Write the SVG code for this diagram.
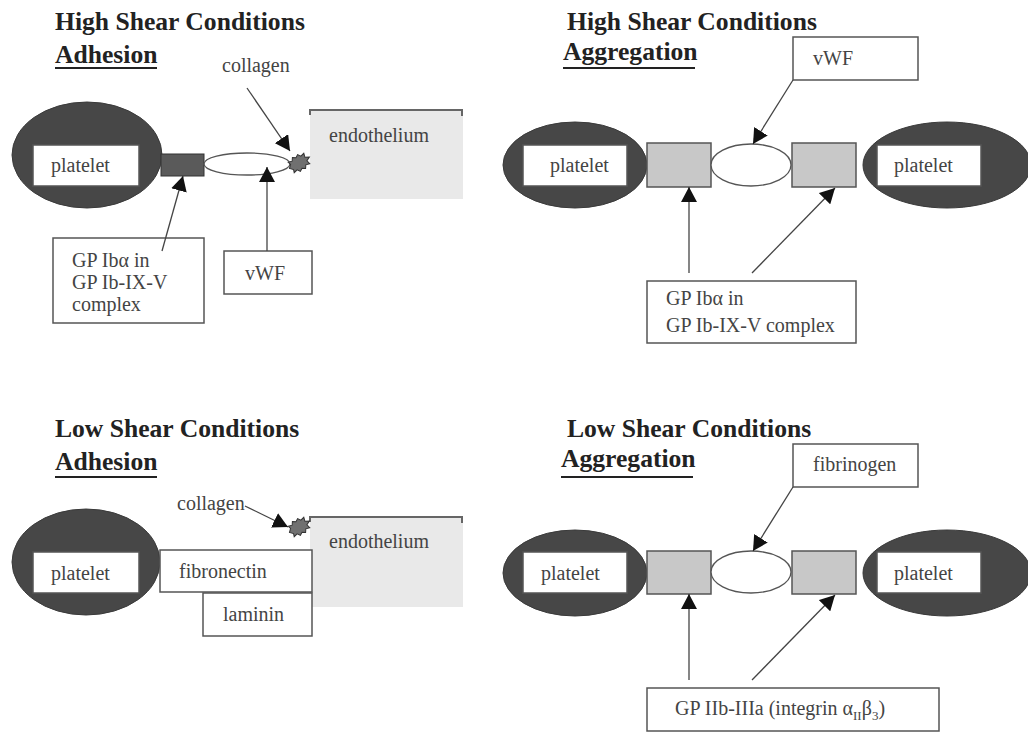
<svg xmlns="http://www.w3.org/2000/svg" width="1028" height="733" viewBox="0 0 1028 733">
<style>
.title{font-family:"Liberation Serif",serif;font-weight:bold;font-size:25.6px;fill:#222}
.lbl{font-family:"Liberation Serif",serif;font-size:20px;fill:#444}
.box{fill:#fff;stroke:#555;stroke-width:1.5}
.plt{fill:#474747;stroke:#3a3a3a;stroke-width:1}
.rec{fill:#c8c8c8;stroke:#555;stroke-width:1.5}
.oval{fill:#fff;stroke:#555;stroke-width:1.3}
.endo{fill:#e9e9e9}
.edge{fill:none;stroke:#666;stroke-width:2}
.ul{stroke:#222;stroke-width:2}
.con{stroke:#444;stroke-width:1.3;fill:none;marker-end:url(#ah)}
.col{fill:#707070;stroke:#333;stroke-width:1}
</style>
<defs>
<marker id="ah" markerUnits="userSpaceOnUse" markerWidth="16" markerHeight="16" refX="15" refY="8" orient="auto">
<path d="M0,0 L15,8 L0,16 z" fill="#111"/>
</marker>
<path id="blob" d="M-11,0 L-8,-3 L-9,-6 L-5,-5 L-3,-8 L0,-6 L3,-8 L5,-5 L9,-6 L8,-2 L12,0 L8,2 L9,6 L5,5 L3,8 L0,6 L-3,8 L-5,5 L-9,6 L-8,3 z"/>
</defs>

<!-- Panel 1: High shear adhesion -->
<g id="title1">
<text class="title" x="55" y="30">High Shear Conditions</text>
<text class="title" x="55" y="63">Adhesion</text>
<line class="ul" x1="55" y1="68" x2="157" y2="68"/>
</g>
<g id="endo1">
<rect class="endo" x="310" y="110" width="153" height="89"/>
<path class="edge" d="M310,115 L310,110 L462,110 L462,116"/>
<text class="lbl" x="329" y="142">endothelium</text>
</g>
<g id="platelet1">
<ellipse class="plt" cx="87" cy="155" rx="75" ry="53"/>
<rect class="box" x="33" y="145" width="106" height="41"/>
<text class="lbl" x="51" y="172">platelet</text>
</g>
<g id="gpib1">
<rect x="161" y="154" width="43" height="22" fill="#5a5a5a" stroke="#333" stroke-width="1"/>
</g>
<g id="vwfbond1">
<ellipse class="oval" cx="247" cy="164" rx="43" ry="11"/>
</g>
<g id="collagen1">
<use href="#blob" class="col" transform="translate(299,163) rotate(-30)"/>
<text class="lbl" x="222" y="72">collagen</text>
</g>
<g id="gplabel1">
<rect class="box" x="53" y="238" width="151" height="85"/>
<text class="lbl" x="72" y="267">GP Ibα in</text>
<text class="lbl" x="72" y="289">GP Ib-IX-V</text>
<text class="lbl" x="72" y="311">complex</text>
</g>
<g id="vwf1">
<rect class="box" x="224" y="251" width="88" height="43"/>
<text class="lbl" x="245" y="280">vWF</text>
</g>

<!-- Panel 2: High shear aggregation -->
<g id="title2">
<text class="title" x="567" y="30">High Shear Conditions</text>
<text class="title" x="563" y="60">Aggregation</text>
<line class="ul" x1="563" y1="68" x2="695" y2="68"/>
</g>
<g id="vwf2">
<rect class="box" x="793" y="37" width="125" height="43"/>
<text class="lbl" x="813" y="65">vWF</text>
</g>
<g id="plateletL2">
<ellipse class="plt" cx="575" cy="165" rx="72" ry="43"/>
<rect class="box" x="523" y="145" width="104" height="41"/>
<text class="lbl" x="550" y="172">platelet</text>
</g>
<g id="recL2"><rect class="rec" x="647" y="143" width="64" height="44"/></g>
<g id="oval2"><ellipse class="oval" cx="751" cy="165" rx="40" ry="21"/></g>
<g id="recR2"><rect class="rec" x="792" y="143" width="64" height="44"/></g>
<g id="plateletR2">
<ellipse class="plt" cx="947" cy="165" rx="84" ry="43"/>
<rect class="box" x="877" y="145" width="104" height="41"/>
<text class="lbl" x="894" y="172">platelet</text>
</g>
<g id="gplabel2">
<rect class="box" x="647" y="281" width="209" height="62"/>
<text class="lbl" x="666" y="305">GP Ibα in</text>
<text class="lbl" x="666" y="332">GP Ib-IX-V complex</text>
</g>

<!-- Panel 3: Low shear adhesion -->
<g id="title3">
<text class="title" x="55" y="437">Low Shear Conditions</text>
<text class="title" x="55" y="470">Adhesion</text>
<line class="ul" x1="55" y1="477" x2="157" y2="477"/>
</g>
<g id="endo3">
<rect class="endo" x="310" y="517" width="153" height="90"/>
<path class="edge" d="M310,522 L310,517 L462,517 L462,523"/>
<text class="lbl" x="329" y="548">endothelium</text>
</g>
<g id="collagen3">
<use href="#blob" class="col" transform="translate(299,527) rotate(-30)"/>
<text class="lbl" x="177" y="510">collagen</text>
</g>
<g id="platelet3">
<ellipse class="plt" cx="86" cy="562" rx="74" ry="53"/>
<rect class="box" x="33" y="552" width="106" height="41"/>
<text class="lbl" x="51" y="580">platelet</text>
</g>
<g id="fibronectin3">
<rect class="box" x="160" y="550" width="152" height="42"/>
<text class="lbl" x="179" y="578">fibronectin</text>
</g>
<g id="laminin3">
<rect class="box" x="203" y="593" width="109" height="43"/>
<text class="lbl" x="223" y="621">laminin</text>
</g>

<!-- Panel 4: Low shear aggregation -->
<g id="title4">
<text class="title" x="567" y="437">Low Shear Conditions</text>
<text class="title" x="561" y="467">Aggregation</text>
<line class="ul" x1="561" y1="477" x2="693" y2="477"/>
</g>
<g id="fibrinogen4">
<rect class="box" x="793" y="444" width="125" height="43"/>
<text class="lbl" x="813" y="471">fibrinogen</text>
</g>
<g id="plateletL4">
<ellipse class="plt" cx="575" cy="573" rx="72" ry="43"/>
<rect class="box" x="523" y="552" width="104" height="41"/>
<text class="lbl" x="541" y="580">platelet</text>
</g>
<g id="recL4"><rect class="rec" x="647" y="551" width="64" height="43"/></g>
<g id="oval4"><ellipse class="oval" cx="751" cy="572" rx="40" ry="21"/></g>
<g id="recR4"><rect class="rec" x="792" y="551" width="64" height="43"/></g>
<g id="plateletR4">
<ellipse class="plt" cx="947" cy="573" rx="84" ry="43"/>
<rect class="box" x="877" y="552" width="104" height="41"/>
<text class="lbl" x="894" y="580">platelet</text>
</g>
<g id="gplabel4">
<rect class="box" x="647" y="688" width="292" height="43"/>
<text class="lbl" x="675" y="715">GP IIb-IIIa (integrin α<tspan font-size="13" dy="5">II</tspan><tspan dy="-5">β</tspan><tspan font-size="13" dy="5">3</tspan><tspan dy="-5">)</tspan></text>
</g>

<g id="connectors">
<line class="con" x1="247" y1="88" x2="290" y2="151"/>
<line class="con" x1="162" y1="251" x2="183" y2="176"/>
<line class="con" x1="267" y1="251" x2="267" y2="167"/>
<line class="con" x1="793" y1="80" x2="753" y2="144"/>
<line class="con" x1="689" y1="273" x2="689" y2="187"/>
<line class="con" x1="752" y1="273" x2="835" y2="188"/>
<line class="con" x1="245" y1="506" x2="288" y2="527"/>
<line class="con" x1="793" y1="487" x2="753" y2="551"/>
<line class="con" x1="689" y1="680" x2="689" y2="594"/>
<line class="con" x1="752" y1="680" x2="835" y2="595"/>
</g>
</svg>
